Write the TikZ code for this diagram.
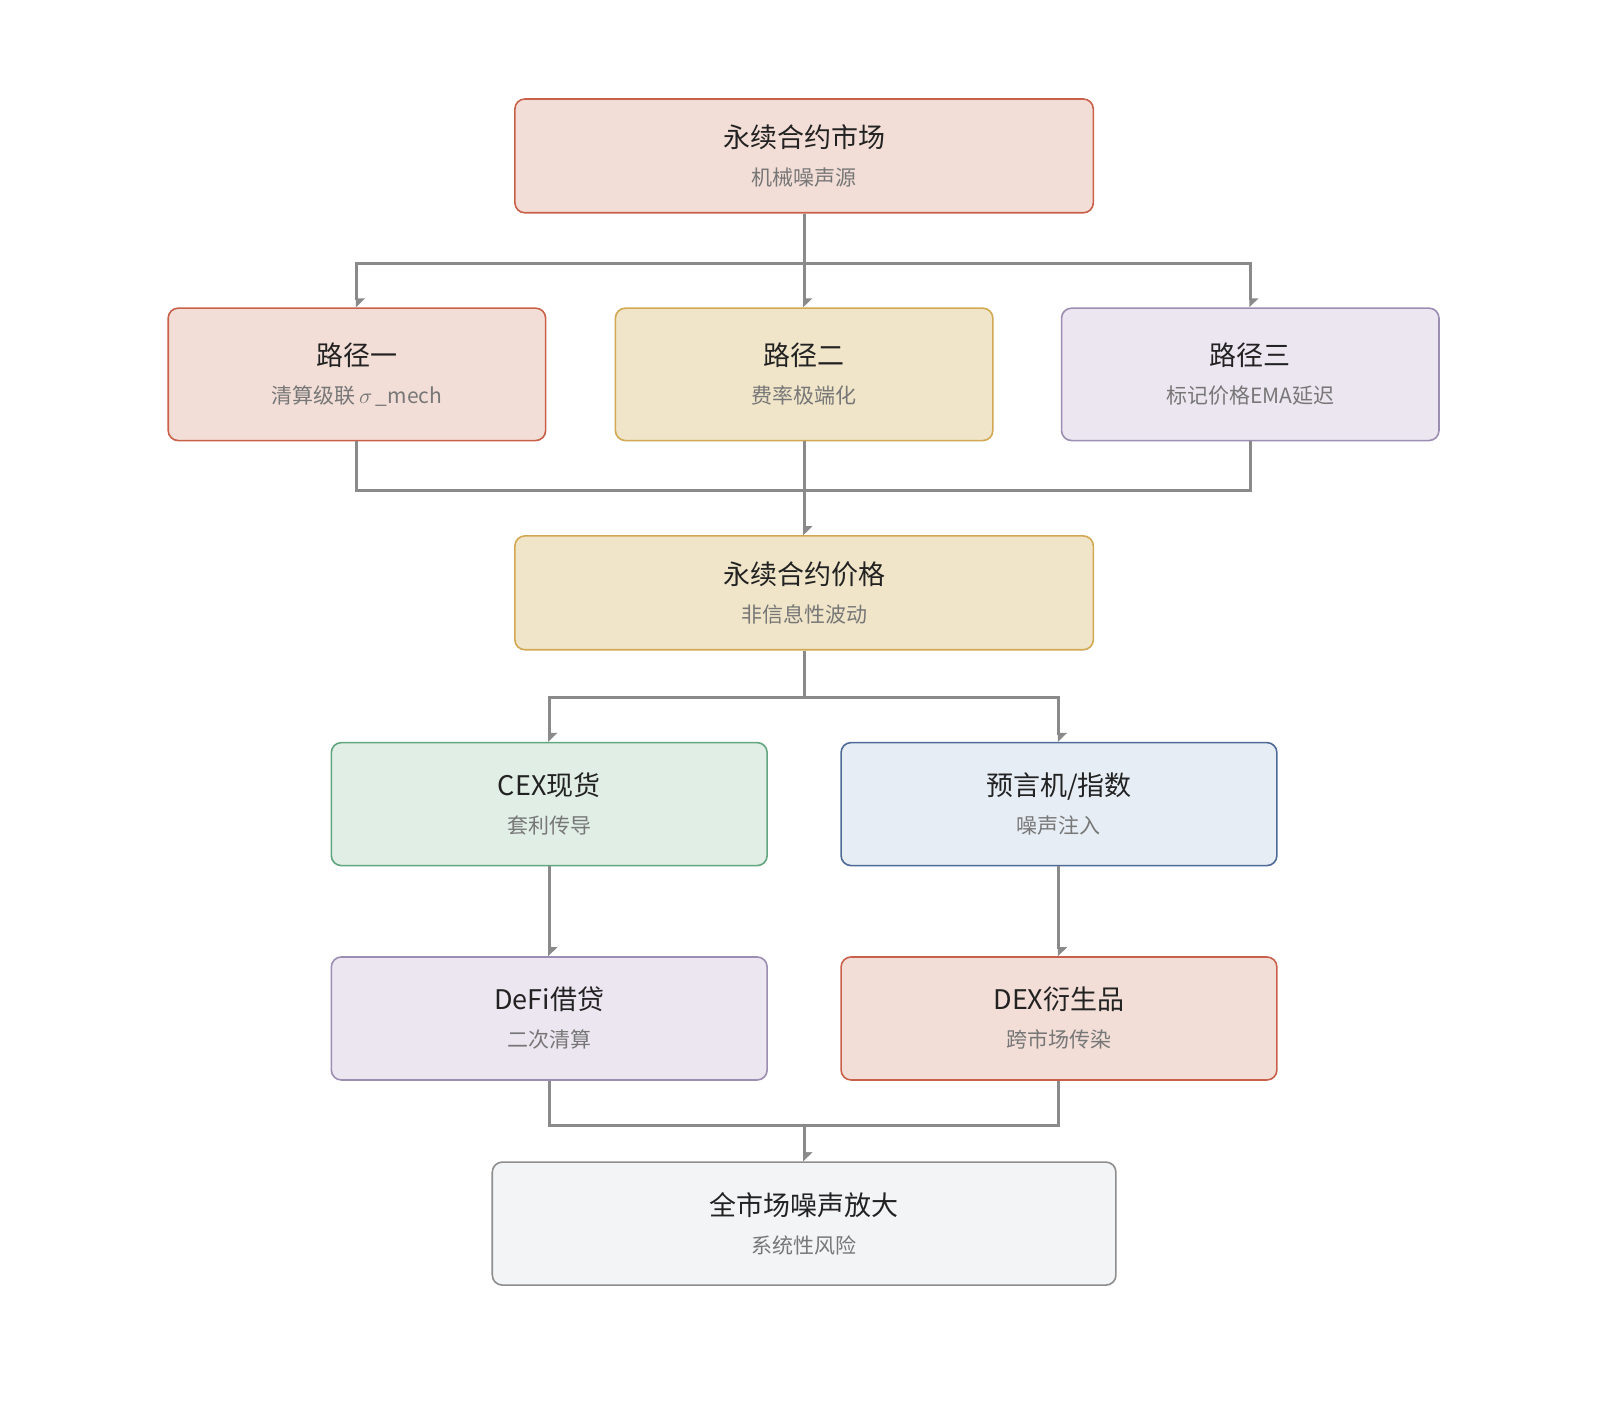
\documentclass[tikz,border=0pt]{standalone}
\usepackage{fontspec}
\setmainfont{Noto Sans CJK SC}
\usetikzlibrary{arrows.meta}
\definecolor{redF}{HTML}{F2DED7}\definecolor{redD}{HTML}{C9604A}
\definecolor{yelF}{HTML}{F0E5C9}\definecolor{yelD}{HTML}{D3A852}
\definecolor{purF}{HTML}{ECE6F1}\definecolor{purD}{HTML}{9C8DB2}
\definecolor{grnF}{HTML}{E1EEE6}\definecolor{grnD}{HTML}{62A67F}
\definecolor{bluF}{HTML}{E6EDF5}\definecolor{bluD}{HTML}{4E6B98}
\definecolor{gryF}{HTML}{F3F4F6}\definecolor{gryD}{HTML}{8E8E8E}
\definecolor{lineC}{HTML}{8A8A8A}
\tikzset{
  box/.style={draw, thick, rounded corners=5pt, align=center, inner sep=0pt},
  red/.style={box, fill=redF, draw=redD},
  yel/.style={box, fill=yelF, draw=yelD},
  pur/.style={box, fill=purF, draw=purD},
  grn/.style={box, fill=grnF, draw=grnD},
  blu/.style={box, fill=bluF, draw=bluD},
  gry/.style={box, fill=gryF, draw=gryD},
  link/.style={draw=lineC, line width=1.5pt, -{Triangle[length=4pt,width=8pt,left]}},
}
\newcommand{\lbl}[2]{{\fontsize{13.5}{16}\selectfont\color[HTML]{222222}#1}\\[7pt]{\fontsize{10.5}{12}\selectfont\color[HTML]{777777}#2}}
\begin{document}
\begin{tikzpicture}[x=0.5128pt, y=-0.5128pt]
	\useasboundingbox (0,0) rectangle (1560,1386.5);
	%boxes
	\node[red, minimum width=289.2pt, minimum height=56.9pt] (src) at (784,152) {\lbl{永续合约市场}{机械噪声源}};
	\node[red, minimum width=188.7pt, minimum height=66.2pt] (p1) at (348,365) {\lbl{路径一}{清算级联\,$\sigma$\,\_mech}};
	\node[yel, minimum width=188.7pt, minimum height=66.2pt] (p2) at (784,365) {\lbl{路径二}{费率极端化}};
	\node[pur, minimum width=188.7pt, minimum height=66.2pt] (p3) at (1219,365) {\lbl{路径三}{标记价格EMA延迟}};
	\node[yel, minimum width=289.2pt, minimum height=56.9pt] (price) at (784,578) {\lbl{永续合约价格}{非信息性波动}};
	\node[grn, minimum width=217.9pt, minimum height=61.5pt] (cex) at (535.5,784) {\lbl{CEX现货}{套利传导}};
	\node[blu, minimum width=217.9pt, minimum height=61.5pt] (orc) at (1032.5,784) {\lbl{预言机/指数}{噪声注入}};
	\node[pur, minimum width=217.9pt, minimum height=61.5pt] (defi) at (535.5,993) {\lbl{DeFi借贷}{二次清算}};
	\node[red, minimum width=217.9pt, minimum height=61.5pt] (dex) at (1032.5,993) {\lbl{DEX衍生品}{跨市场传染}};
	\node[gry, minimum width=311.8pt, minimum height=61.5pt] (all) at (784,1193) {\lbl{全市场噪声放大}{系统性风险}};
	%connectors
	\foreach \t in {p1,p2,p3}
	\draw[link] (src.south) |- ++(0,49) -| (\t.north);
	\foreach \s in {p1,p2,p3}
	\draw[link] (\s.south) |- ++(0,48) -| (price.north);
	\foreach \t in {cex,orc}
	\draw[link] (price.south) |- ++(0,46) -| (\t.north);
	\draw[link] (cex) -- (defi);
	\draw[link] (orc) -- (dex);
	\foreach \s in {defi,dex}
	\draw[link] (\s.south) |- ++(0,44) -| (all.north);
\end{tikzpicture}
\end{document}
